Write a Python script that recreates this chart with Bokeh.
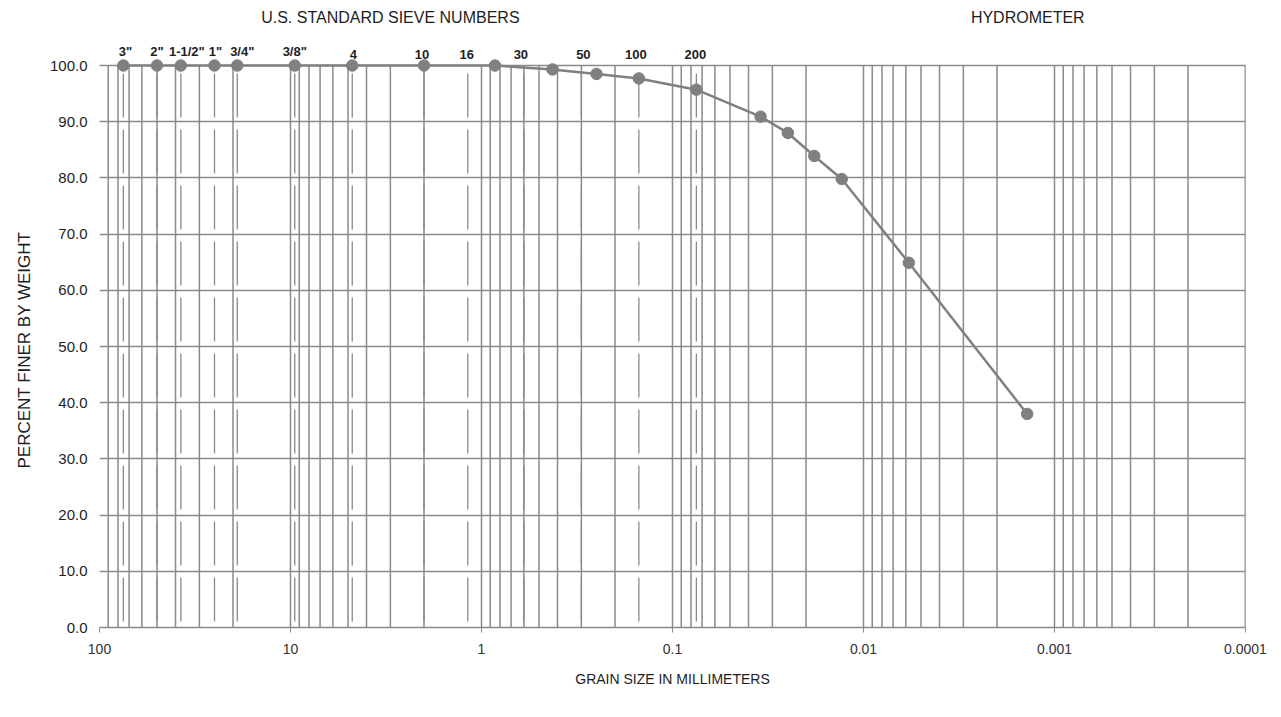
from bokeh.plotting import figure
from bokeh.models import (Range1d, FixedTicker, CustomJSTickFormatter, NumeralTickFormatter,
                          ColumnDataSource, Title)
from bokeh.core.properties import value
from bokeh.embed import file_html
from bokeh.resources import INLINE

# ---- data ----
grain_size_mm = [75, 50, 37.5, 25, 19, 9.5, 4.75, 2.0, 0.85, 0.425, 0.25, 0.15, 0.075,
                 0.0346, 0.0249, 0.0181, 0.0130, 0.00579, 0.00139]
percent_finer = [100, 100, 100, 100, 100, 100, 100, 100, 100, 99.3, 98.5, 97.7, 95.7,
                 90.9, 88.0, 83.9, 79.8, 64.9, 38.0]

sieve_labels = ['3"', '2"', '1-1/2"', '1"', '3/4"', '3/8"', '4', '10', '16', '30', '50', '100', '200']
sieve_sizes = [75, 50, 37.5, 25, 19, 9.5, 4.75, 2.0, 1.18, 0.6, 0.3, 0.15, 0.075]
sieve_label_shift = [2, 0, 6, 1, 5, 0, 1, -2, -1, -3, 2, -3, -1]

header_labels = ["U.S. STANDARD SIEVE NUMBERS", "HYDROMETER"]
header_x = [3.0, 0.00138]

x_ticks = [100, 10, 1, 0.1, 0.01, 0.001, 0.0001]
y_ticks = [0, 10, 20, 30, 40, 50, 60, 70, 80, 90, 100]

FONT = "Liberation Sans"
GRID = "#8a8a8a"
TXT = "#1e1e1e"
Y_TOP = 100 * 627 / 562  # frame reaches the top of the canvas; 100% sits 65px down

# log grid lines (1..9 within each decade)
decades = [100, 10, 1, 0.1, 0.01, 0.001]
grid_vals = [0.0001]
for d in decades:
    for k in range(1, 10):
        grid_vals.append(d * k / 10)

p = figure(width=1275, height=705, x_axis_type="log",
           x_range=Range1d(100, 0.0001), y_range=Range1d(0, Y_TOP),
           output_backend="svg", toolbar_location=None,
           min_border_left=99, min_border_right=30, min_border_top=0, min_border_bottom=78)

p.background_fill_color = "white"
p.border_fill_color = "white"
p.outline_line_color = None
p.xgrid.grid_line_color = None

# horizontal grid
p.ygrid.ticker = FixedTicker(ticks=y_ticks)
p.ygrid.grid_line_color = GRID
p.ygrid.grid_line_width = 1.5

# vertical log grid, only between 0 and 100 %
gv = ColumnDataSource(dict(x=grid_vals, top=[100] * len(grid_vals), bot=[0] * len(grid_vals)))
p.segment(x0="x", y0="top", x1="x", y1="bot", source=gv, line_color=GRID, line_width=1.5)

# sieve dashed lines
sv = ColumnDataSource(dict(x=sieve_sizes, top=[100] * len(sieve_sizes), bot=[0] * len(sieve_sizes)))
p.segment(x0="x", y0="top", x1="x", y1="bot", source=sv, line_color=GRID, line_width=1.3,
          line_dash="44 12", line_dash_offset=48)

# data
p.line(grain_size_mm, percent_finer, line_color="#808080", line_width=2.5)
p.scatter(grain_size_mm, percent_finer, size=11.5, fill_color="#808080", line_color="#808080")

# sieve labels above plot
ls = ColumnDataSource(dict(x=sieve_sizes, y=[100] * len(sieve_sizes), t=sieve_labels, dx=sieve_label_shift))
p.text(x="x", y="y", text="t", source=ls, x_offset="dx", y_offset=-7,
       text_align="center", text_baseline="bottom", text_font=value(FONT),
       text_font_size="13px", text_font_style="bold", text_color=TXT)

# section headers
hs = ColumnDataSource(dict(x=header_x, y=[100, 100], t=header_labels))
p.text(x="x", y="y", text="t", source=hs, y_offset=-40,
       text_align="center", text_baseline="bottom", text_font=value(FONT),
       text_font_size="16px", text_color=TXT)

# x axis
xa = p.xaxis[0]
xa.ticker = FixedTicker(ticks=x_ticks)
xa.formatter = CustomJSTickFormatter(code="return tick.toString();")
xa.axis_line_color = GRID
xa.axis_line_width = 1.5
xa.major_tick_line_color = GRID
xa.major_tick_in = 0
xa.major_tick_out = 5
xa.minor_tick_line_color = None
xa.major_label_standoff = 11
xa.major_label_text_font = FONT
xa.major_label_text_font_size = "14px"
xa.major_label_text_color = "#333333"
xa.axis_label = "GRAIN SIZE IN MILLIMETERS"
xa.axis_label_text_font = FONT
xa.axis_label_text_font_style = "normal"
xa.axis_label_text_font_size = "14px"
xa.axis_label_text_color = TXT
xa.axis_label_standoff = 14

# y axis
ya = p.yaxis[0]
ya.ticker = FixedTicker(ticks=y_ticks)
ya.formatter = NumeralTickFormatter(format="0.0")
ya.axis_line_color = None
ya.major_tick_line_color = None
ya.minor_tick_line_color = None
ya.major_label_standoff = 6
ya.major_label_text_font = FONT
ya.major_label_text_font_size = "15px"
ya.major_label_text_color = TXT

# y axis title as a side title, centred on the 0-100 band
p.add_layout(Title(text="PERCENT FINER BY WEIGHT", align="left", offset=159,
                   vertical_align="top",
                   text_font=FONT, text_font_style="normal", text_font_size="17px",
                   text_color=TXT, standoff=22), "left")

open("out.html", "w").write(file_html(p, INLINE))
